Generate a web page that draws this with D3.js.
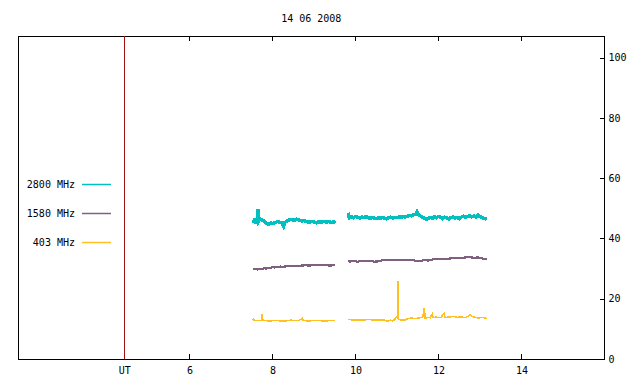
<!DOCTYPE html>
<html>
<head>
<meta http-equiv="Content-Type" content="text/html;charset=utf-8"/>
<script src="https://d3js.org/d3.v7.min.js"></script>
<style type="text/css">
body { margin: 0; background: #fff; }
svg { font-family: "DejaVu Sans Mono", monospace; font-size: 10px; }
.frame { fill: none; stroke: #000; stroke-width: 1px; shape-rendering: crispEdges; }
.axis path { display: none; }
.axis line { stroke: #000; shape-rendering: crispEdges; }
.axis text { fill: #000; font-family: "DejaVu Sans Mono", monospace; font-size: 10px; }
.trace { fill: none; stroke-linejoin: miter; shape-rendering: crispEdges; }
</style>
</head>
<body>
<script>

var width = 640, height = 384;
var title = "14 06 2008";

// hours UT
var xDomain = [1.87, 16];
var yDomain = [0, 107.2];
var xTicks = [6, 8, 10, 12, 14];
var yTicks = [0, 20, 40, 60, 80, 100];
var utHour = 4.43;   // red marker line, labelled "UT"

var freqNames = ["2800 MHz", "1580 MHz", "403 MHz"];
var freqColors = ["#00c0c0", "#7f6080", "#ffc020"];
var freqWidths = [3.5, 2.2, 1.5];

// 2800 MHz, two observing blocks [hour, flux]
var f2800a = [[7.53,45.2],[7.56,46.0],[7.60,45.5],[7.63,45.8],[7.65,49.8],[7.67,45.9],[7.70,46.6],[7.74,46.2],
  [7.78,45.9],[7.82,45.4],[7.87,44.9],[7.92,44.8],[7.97,45.1],[8.02,45.0],[8.07,45.3],[8.12,45.6],[8.17,45.4],
  [8.22,45.2],[8.27,44.0],[8.30,45.3],[8.35,45.8],[8.40,46.2],[8.46,46.3],[8.52,46.0],[8.58,46.4],[8.64,46.1],
  [8.70,45.8],[8.76,46.0],[8.82,45.6],[8.88,45.3],[8.94,45.7],[9.00,45.5],[9.06,45.2],[9.12,45.6],[9.18,45.4],
  [9.24,45.7],[9.30,45.4],[9.36,45.6],[9.42,45.3],[9.48,45.5],[9.51,45.1]];
var f2800b = [[9.83,48.6],[9.85,46.8],[9.90,47.2],[9.95,46.9],[10.00,47.3],[10.05,47.0],[10.10,46.8],[10.15,47.1],
  [10.20,46.9],[10.25,47.2],[10.30,47.0],[10.35,46.7],[10.40,47.0],[10.45,46.8],[10.50,46.6],[10.55,46.9],
  [10.60,46.7],[10.65,47.0],[10.70,46.8],[10.75,46.5],[10.80,46.9],[10.85,47.1],[10.90,46.8],[10.95,47.0],
  [11.00,46.9],[11.05,47.2],[11.10,47.0],[11.15,47.3],[11.20,47.1],[11.25,47.4],[11.30,47.6],[11.35,47.5],
  [11.40,47.9],[11.45,48.1],[11.48,48.8],[11.52,47.8],[11.55,47.6],[11.60,47.2],[11.65,46.8],[11.70,46.4],
  [11.75,46.6],[11.80,47.0],[11.85,46.7],[11.90,47.2],[11.95,46.9],[12.00,47.3],[12.05,47.0],[12.10,46.6],
  [12.15,47.1],[12.20,46.8],[12.25,46.5],[12.30,46.9],[12.35,47.2],[12.40,46.8],[12.45,47.0],[12.50,46.6],
  [12.55,47.1],[12.60,47.4],[12.65,47.0],[12.70,47.3],[12.75,47.6],[12.80,47.2],[12.85,47.5],[12.90,47.1],
  [12.95,47.8],[13.00,47.3],[13.05,46.9],[13.10,46.6],[13.16,46.5]];

// 1580 MHz
var f1580a = [[7.53,29.8],[7.60,29.9],[7.65,29.7],[7.70,30.0],[7.75,29.8],[7.80,30.1],[7.85,30.0],[7.90,30.3],
  [7.95,30.2],[8.00,30.5],[8.05,30.4],[8.10,30.6],[8.15,30.5],[8.20,30.7],[8.25,30.4],[8.30,30.7],[8.40,30.8],
  [8.50,30.9],[8.60,30.8],[8.70,31.0],[8.80,31.1],[8.90,31.0],[9.00,31.2],[9.10,31.1],[9.20,31.2],[9.30,31.1],
  [9.40,31.0],[9.51,31.2]];
var f1580b = [[9.83,32.8],[9.86,32.3],[9.95,32.5],[10.05,32.3],[10.15,32.5],[10.25,32.4],[10.35,32.6],[10.45,32.3],
  [10.55,32.4],[10.65,32.8],[10.75,32.9],[10.85,32.8],[10.95,32.9],[11.05,32.8],[11.15,32.9],[11.25,32.8],
  [11.35,32.9],[11.45,32.6],[11.55,32.5],[11.65,32.8],[11.75,32.7],[11.85,33.0],[11.95,33.2],[12.05,33.1],
  [12.15,33.2],[12.25,33.3],[12.35,33.5],[12.45,33.6],[12.55,33.5],[12.65,33.7],[12.75,33.8],[12.85,33.6],
  [12.95,33.7],[13.05,33.4],[13.16,33.1]];

// 403 MHz
var f403a = [[7.53,12.9],[7.55,13.3],[7.58,12.8],[7.65,12.7],[7.73,12.8],[7.75,15.0],[7.77,12.8],[7.85,12.7],
  [7.95,12.6],[8.05,12.8],[8.15,12.7],[8.25,12.6],[8.35,12.7],[8.45,12.9],[8.55,12.7],[8.65,12.8],[8.72,13.6],
  [8.74,12.8],[8.85,12.6],[8.95,12.7],[9.05,12.8],[9.15,12.7],[9.25,12.6],[9.35,12.7],[9.45,12.8],[9.51,12.7]];
var f403b = [[9.83,13.1],[9.90,13.0],[10.00,12.9],[10.10,13.0],[10.20,12.9],[10.30,13.1],[10.40,13.0],[10.50,12.9],
  [10.60,13.0],[10.70,12.9],[10.78,12.5],[10.85,12.9],[10.90,12.6],[10.95,13.2],[10.98,13.9],[11.00,14.1],
  [11.02,13.5],[11.03,25.9],[11.04,13.2],[11.10,12.9],[11.20,13.0],[11.25,13.3],[11.35,13.6],[11.45,13.4],
  [11.55,13.7],[11.62,13.8],[11.66,17.0],[11.68,13.6],[11.75,13.8],[11.80,13.7],[11.85,15.0],[11.87,13.8],
  [11.95,13.9],[12.05,13.7],[12.14,15.2],[12.16,13.8],[12.25,13.9],[12.35,14.2],[12.45,13.8],[12.55,14.0],
  [12.65,13.7],[12.72,14.3],[12.76,14.8],[12.80,14.2],[12.88,13.8],[12.95,13.6],[13.05,13.8],[13.16,13.5]];

var series = [[f2800a, f2800b], [f1580a, f1580b], [f403a, f403b]];

var plotL = 18, plotR = 604.5, plotT = 36, plotB = 359;

var x = d3.scaleLinear().domain(xDomain).range([plotL, plotR]);
var y = d3.scaleLinear().domain(yDomain).range([plotB, plotT]);

var svg = d3.select("body").append("svg")
    .attr("width", width)
    .attr("height", height);

svg.append("text")
    .attr("x", (plotL + plotR) / 2)
    .attr("y", 22)
    .attr("text-anchor", "middle")
    .text(title);

// bottom axis with UT label
svg.append("g")
    .attr("class", "axis")
    .attr("transform", "translate(0," + plotB + ")")
    .call(d3.axisBottom(x).tickValues([utHour].concat(xTicks)).tickSize(-5).tickPadding(8)
      .tickFormat(function(d) { return d === utHour ? "UT" : d; }));

svg.append("g")
    .attr("class", "axis")
    .attr("transform", "translate(0," + plotT + ")")
    .call(d3.axisTop(x).tickValues(xTicks).tickSize(-5).tickFormat(""));

svg.append("g")
    .attr("class", "axis")
    .attr("transform", "translate(" + plotR + ",0)")
    .call(d3.axisRight(y).tickValues(yTicks).tickSize(-5).tickPadding(4));

svg.append("rect")
    .attr("class", "frame")
    .attr("x", plotL)
    .attr("y", plotT)
    .attr("width", plotR - plotL)
    .attr("height", plotB - plotT);

// UT marker
svg.append("line")
    .attr("x1", x(utHour)).attr("x2", x(utHour))
    .attr("y1", plotT).attr("y2", plotB)
    .attr("stroke", "#a01010")
    .attr("shape-rendering", "crispEdges");

var line = d3.line()
    .x(function(d) { return x(d[0]); })
    .y(function(d) { return y(d[1]); });

series.forEach(function(blocks, i) {
  blocks.forEach(function(b) {
    svg.append("path")
        .datum(b)
        .attr("class", "trace")
        .attr("stroke", freqColors[i])
        .attr("stroke-width", freqWidths[i])
        .attr("d", line);
  });
});

// legend
var legend = svg.append("g");
freqNames.forEach(function(name, i) {
  var ly = 184.5 + i * 29;
  legend.append("text")
      .attr("x", 75)
      .attr("y", ly)
      .attr("dy", "0.35em")
      .attr("text-anchor", "end")
      .text(name);
  legend.append("line")
      .attr("x1", 82).attr("x2", 111)
      .attr("y1", ly).attr("y2", ly)
      .attr("stroke", freqColors[i])
      .attr("stroke-width", 1.5);
});

</script>
</body>
</html>
